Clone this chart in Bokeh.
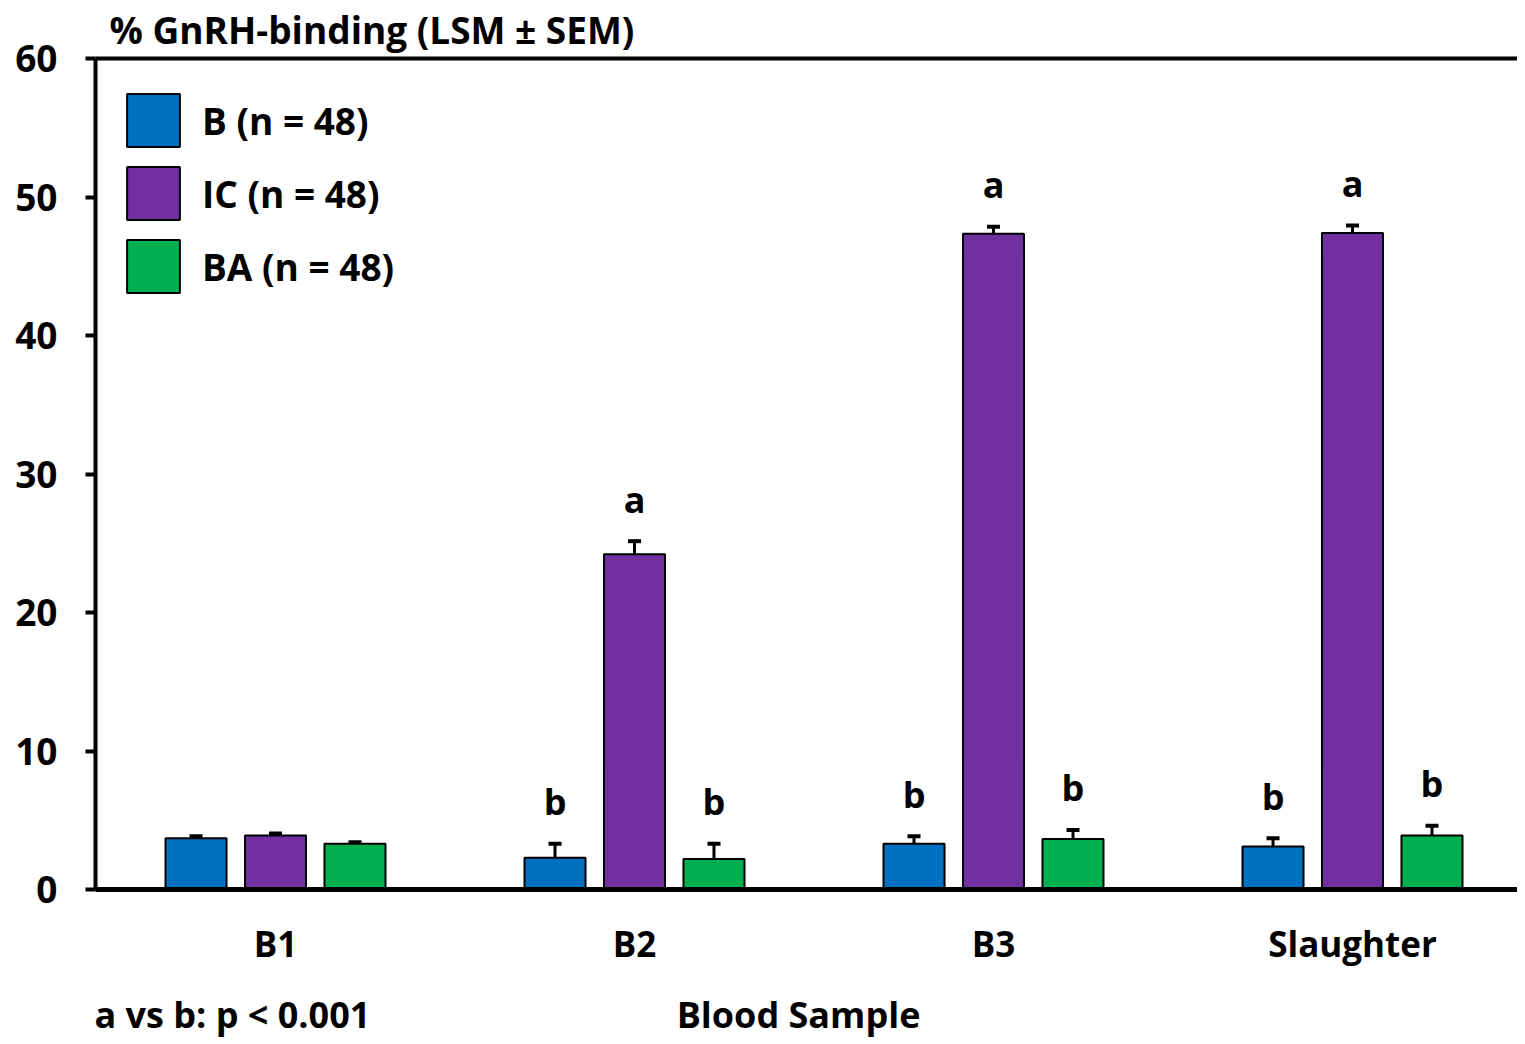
from bokeh.plotting import figure
from bokeh.models import (Range1d, FixedTicker, LinearAxis, Whisker, TeeHead,
                          Legend, LegendItem, ColumnDataSource)
from bokeh.core.properties import value
from bokeh.embed import file_html
from bokeh.resources import INLINE

# ---- data ----
samples = ["B1", "B2", "B3", "Slaughter"]
groups = ["B (n = 48)", "IC (n = 48)", "BA (n = 48)"]
b_mean = [3.7, 2.3, 3.3, 3.1]
b_sem = [0.15, 1.0, 0.55, 0.6]
ic_mean = [3.9, 24.2, 47.35, 47.4]
ic_sem = [0.15, 0.95, 0.5, 0.55]
ba_mean = [3.3, 2.2, 3.65, 3.9]
ba_sem = [0.12, 1.1, 0.65, 0.7]
b_sig = ["", "b", "b", "b"]
ic_sig = ["", "a", "a", "a"]
ba_sig = ["", "b", "b", "b"]
y_ticks = [0, 10, 20, 30, 40, 50, 60]
colors = ["#0070C0", "#7030A0", "#00B050"]
title_text = "% GnRH-binding (LSM ± SEM)"
x_title = "Blood Sample"
note_text = "a vs b: p < 0.001"

FONT = "Open Sans"
FS = "35px"

p = figure(frame_width=1422, frame_height=831,
           x_range=Range1d(-0.5014, 3.4596), y_range=Range1d(0, 60),
           output_backend="svg", toolbar_location=None,
           min_border_left=95, min_border_top=58, min_border_right=0,
           min_border_bottom=0)
p.outline_line_color = None
p.xgrid.visible = False
p.ygrid.visible = False

# title
p.title.text = title_text
p.title.align = "left"
p.title.vertical_align = "top"
p.title.offset = 14
p.title.standoff = 4
p.title.text_font = FONT
p.title.text_font_style = "bold"
p.title.text_font_size = "37px"
p.title.text_color = "black"

# y axis
p.yaxis.ticker = FixedTicker(ticks=y_ticks)
p.yaxis.major_tick_out = 10
p.yaxis.major_tick_in = 0
p.yaxis.major_tick_line_width = 4
p.yaxis.minor_tick_line_color = None
p.yaxis.axis_line_width = 4
p.yaxis.major_label_standoff = 28
p.yaxis.major_label_text_font = FONT
p.yaxis.major_label_text_font_style = "bold"
p.yaxis.major_label_text_font_size = "37px"
p.yaxis.major_label_text_color = "black"

# x axis (sample names)
p.xaxis.ticker = FixedTicker(ticks=list(range(len(samples))))
p.xaxis.major_label_overrides = {i: s for i, s in enumerate(samples)}
p.xaxis.major_tick_line_color = None
p.xaxis.minor_tick_line_color = None
p.xaxis.axis_line_width = 5
p.xaxis.major_label_standoff = 24
p.xaxis.major_label_text_font = FONT
p.xaxis.major_label_text_font_style = "bold"
p.xaxis.major_label_text_font_size = FS
p.xaxis.major_label_text_color = "black"

# second row below: axis title and significance note (same row)
x_title_pos = 1.457
note_pos = -0.12
bottom2 = LinearAxis(ticker=FixedTicker(ticks=[note_pos, x_title_pos]),
                     major_label_overrides={note_pos: note_text, x_title_pos: x_title},
                     axis_line_color=None, major_tick_line_color=None,
                     minor_tick_line_color=None, major_label_standoff=14,
                     major_label_text_font=FONT, major_label_text_font_style="bold",
                     major_label_text_font_size="36px", major_label_text_color="black")
p.add_layout(bottom2, "below")

# top frame line
top = LinearAxis(ticker=FixedTicker(ticks=[]), axis_line_width=4,
                 major_label_text_font_size="0px", major_tick_line_color=None,
                 minor_tick_line_color=None, major_tick_out=0, major_tick_in=0,
                 minor_tick_out=0, minor_tick_in=0, major_label_standoff=0,
                 axis_label_standoff=0)
p.add_layout(top, "above")

offsets = [-0.2214, 0.0, 0.2214]
series = [(b_mean, b_sem, b_sig), (ic_mean, ic_sem, ic_sig), (ba_mean, ba_sem, ba_sig)]
items = []
for (means, sems, sig), color, name, off in zip(series, colors, groups, offsets):
    xs = [i + off for i in range(len(samples))]
    src = ColumnDataSource(dict(x=xs, top=means,
                                upper=[m + s for m, s in zip(means, sems)], sig=sig))
    r = p.vbar(x="x", top="top", bottom=0, width=0.17, source=src,
               fill_color=color, line_color="black", line_width=2)
    w = Whisker(base="x", lower="top", upper="upper", source=src, dimension="height",
                line_width=3, line_color="black",
                upper_head=TeeHead(size=13, line_width=4, line_color="black"),
                lower_head=None)
    p.add_layout(w)
    p.text(x="x", y="upper", text="sig", source=src, text_align="center",
           text_baseline="alphabetic", y_offset=-42, text_font=value(FONT),
           text_font_style="bold", text_font_size="36px", text_color="black")
    items.append(LegendItem(label=name, renderers=[r]))

legend = Legend(items=items, location=(25, 590), glyph_width=66, glyph_height=66,
                spacing=7, padding=0, margin=0, label_standoff=16,
                border_line_color=None, background_fill_alpha=0,
                label_text_font=FONT, label_text_font_style="bold",
                label_text_font_size="37px", label_text_color="black")
p.add_layout(legend)

open("out.html", "w").write(file_html(p, INLINE))
